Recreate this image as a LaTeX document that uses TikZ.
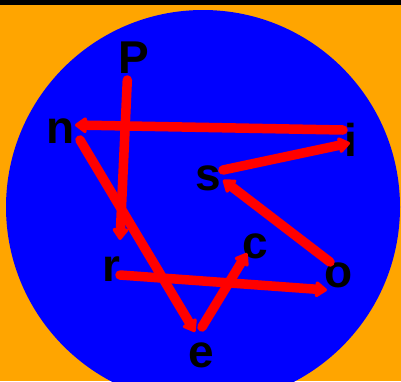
\documentclass[tikz,border=0pt]{standalone}
\usepackage{fontspec}
\setmainfont{Liberation Sans}
\usetikzlibrary{arrows.meta,calc}
\definecolor{bgorange}{HTML}{FFA500}
\definecolor{cblue}{HTML}{0000FF}
\definecolor{cred}{HTML}{FF0000}
\begin{document}
\begin{tikzpicture}[x=1pt,y=-1pt,
  lbl/.style={inner sep=0pt, font=\fontsize{46}{50}\selectfont\bfseries, text=black},
  arr/.style={draw=cred, line width=9.5pt, line cap=round, line join=round,
    -{Triangle[round,length=13pt,width=18pt,line width=4pt,fill=cred]}}]
\useasboundingbox (0,0) rectangle (401,381);
\fill[bgorange] (0,0) rectangle (401,381);
\fill[black] (0,0) rectangle (401,5);
\fill[cblue] (203,207) circle (197);
\node[lbl] (P) at (134.3,57.5) {P};
\node[lbl] (n) at (60.5,131) {n};
\node[lbl] (i) at (351,140) {i};
\node[lbl] (s) at (208.5,178.5) {s};
\node[lbl] (c) at (255,246) {c};
\node[lbl] (r) at (111.5,269.5) {r};
\node[lbl] (o) at (339,275) {o};
\node[lbl] (e) at (201.5,355) {e};
\draw[arr] ($(P)+(-7,22.5)$) -- ($(r)+(8.5,-29.5)$);
\draw[arr] ($(r)+(8.5,5.5)$) -- ($(o)+(-12,15)$);
\draw[arr] ($(o)+(-9,-13)$) -- ($(s)+(14.5,1.5)$);
\draw[arr] ($(s)+(14.5,-8.5)$) -- ($(i)+(-1,3)$);
\draw[arr] ($(i)+(-8,-10)$) -- ($(n)+(14.5,-6)$);
\draw[arr] ($(n)+(19.5,9)$) -- ($(e)+(-6.5,-23)$);
\draw[arr] ($(e)+(0.5,-28)$) -- ($(c)+(-8,7)$);
\end{tikzpicture}
\end{document}
